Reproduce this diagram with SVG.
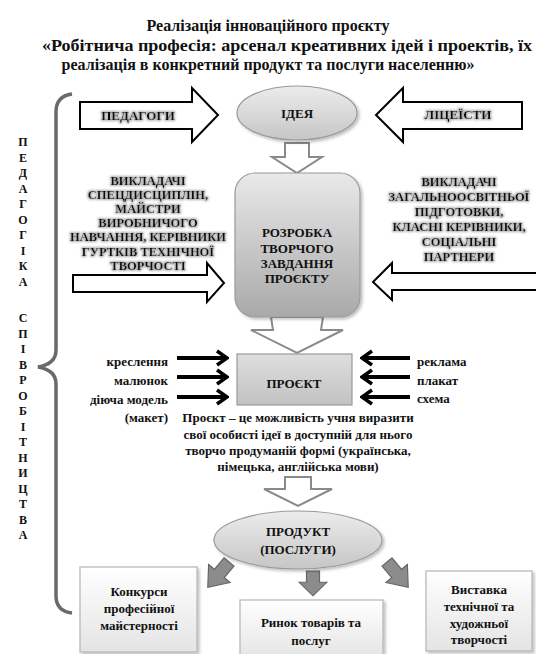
<svg xmlns="http://www.w3.org/2000/svg" width="536" height="654" viewBox="0 0 536 654">
<style>
text{font-family:"Liberation Serif","DejaVu Serif","Times New Roman",serif;font-weight:bold;fill:#111}
.t{font-size:16px}
.s{font-size:13px;text-anchor:middle}
.l{font-size:12.5px;text-anchor:middle}
.v{font-size:12px;text-anchor:middle}
.e{font-size:13px;text-anchor:end}
.st{font-size:13px;text-anchor:start}
.big{fill:#fff;stroke:#000;stroke-width:2}
.hol{fill:#fff;stroke:#8a8a8a;stroke-width:2;stroke-linejoin:miter}
.blk{stroke:#000;stroke-width:4;fill:none}
.gra{fill:#8c8c8c;stroke:#666;stroke-width:1.2}
.box{fill:url(#gBox);stroke:#b5b5b5;stroke-width:1.2}
</style>
<defs>
<linearGradient id="gIdea" x1="0" y1="0" x2="0" y2="1"><stop offset="0" stop-color="#ececec"/><stop offset="1" stop-color="#c6c6c6"/></linearGradient>
<linearGradient id="gRR" x1="0" y1="0" x2="0" y2="1"><stop offset="0" stop-color="#e9e9e9"/><stop offset="1" stop-color="#a9a9a9"/></linearGradient>
<linearGradient id="gProj" x1="0" y1="0" x2="0" y2="1"><stop offset="0" stop-color="#dedede"/><stop offset="1" stop-color="#c2c2c2"/></linearGradient>
<linearGradient id="gBox" x1="0" y1="0" x2="0" y2="1"><stop offset="0" stop-color="#ffffff"/><stop offset="1" stop-color="#e4e4e4"/></linearGradient>
<filter id="glow" x="-10%" y="-30%" width="120%" height="160%">
<feMorphology in="SourceAlpha" operator="dilate" radius="0.8" result="d"/>
<feGaussianBlur in="d" stdDeviation="1.2" result="b"/>
<feFlood flood-color="#aaaaaa"/>
<feComposite in2="b" operator="in" result="sh"/>
<feMerge><feMergeNode in="sh"/><feMergeNode in="SourceGraphic"/></feMerge>
</filter>
<filter id="shadow" x="-10%" y="-10%" width="125%" height="125%">
<feGaussianBlur in="SourceAlpha" stdDeviation="1.5"/>
<feOffset dx="1.5" dy="1.5" result="o"/>
<feFlood flood-color="#000" flood-opacity="0.25"/>
<feComposite in2="o" operator="in" result="s"/>
<feMerge><feMergeNode in="s"/><feMergeNode in="SourceGraphic"/></feMerge>
</filter>
<marker id="mk" viewBox="0 0 14 18" refX="12" refY="9" markerWidth="14" markerHeight="18" markerUnits="userSpaceOnUse" orient="auto">
<path d="M2,2 L12,9 L2,16" fill="none" stroke="#000" stroke-width="3.5"/>
</marker>
<path id="garr" d="M-6.5,0 L6.5,0 L6.5,15 L14,15 L0,33 L-14,15 L-6.5,15 Z"/>
</defs>

<g id="title">
<text class="t" x="268" y="31" text-anchor="middle">Реалізація інноваційного  проєкту</text>
<text class="t" x="42" y="51" textLength="490" lengthAdjust="spacingAndGlyphs">«Робітнича професія: арсенал креативних ідей і проектів, їх</text>
<text class="t" x="268" y="70" text-anchor="middle">реалізація в конкретний  продукт та послуги населенню»</text>
</g>

<g id="brace">
<path d="M72,94 Q56,96 56,112 L56,350 Q56,364 38,367 Q56,370 56,384 L56,596 Q56,611 72,613" fill="none" stroke="#6a6a6a" stroke-width="3.5"/>
</g>

<g id="side-pedagogika">
<text class="v" x="23" y="146">П</text>
<text class="v" x="23" y="161.5">Е</text>
<text class="v" x="23" y="177">Д</text>
<text class="v" x="23" y="192.5">А</text>
<text class="v" x="23" y="208">Г</text>
<text class="v" x="23" y="223.5">О</text>
<text class="v" x="23" y="239">Г</text>
<text class="v" x="23" y="254.5">І</text>
<text class="v" x="23" y="270">К</text>
<text class="v" x="23" y="285.5">А</text>
</g>
<g id="side-spivrobitnytstva">
<text class="v" x="23" y="322">С</text>
<text class="v" x="23" y="337.5">П</text>
<text class="v" x="23" y="353">І</text>
<text class="v" x="23" y="368.5">В</text>
<text class="v" x="23" y="384">Р</text>
<text class="v" x="23" y="399.5">О</text>
<text class="v" x="23" y="415">Б</text>
<text class="v" x="23" y="430.5">І</text>
<text class="v" x="23" y="446">Т</text>
<text class="v" x="23" y="461.5">Н</text>
<text class="v" x="23" y="477">И</text>
<text class="v" x="23" y="492.5">Ц</text>
<text class="v" x="23" y="508">Т</text>
<text class="v" x="23" y="523.5">В</text>
<text class="v" x="23" y="539">А</text>
</g>

<g id="connectors">
<polygon class="hol" points="285,143 309,143 309,157 322,157 297,173 272,157 285,157"/>
<polygon class="hol" points="271,317 323,317 321,330 343,330 297,353 251,330 273,330"/>
<polygon class="hol" points="285,477 311,477 311,489 332,489 298,506 264,489 285,489"/>
<line class="blk" x1="177" y1="358" x2="227" y2="358" marker-end="url(#mk)"/>
<line class="blk" x1="177" y1="377" x2="227" y2="377" marker-end="url(#mk)"/>
<line class="blk" x1="177" y1="397" x2="227" y2="397" marker-end="url(#mk)"/>
<line class="blk" x1="410" y1="358" x2="362" y2="358" marker-end="url(#mk)"/>
<line class="blk" x1="410" y1="377" x2="362" y2="377" marker-end="url(#mk)"/>
<line class="blk" x1="410" y1="397" x2="362" y2="397" marker-end="url(#mk)"/>
<use href="#garr" class="gra" transform="translate(229,562) rotate(40)"/>
<use href="#garr" class="gra" transform="translate(313,571) scale(1,0.75)"/>
<use href="#garr" class="gra" transform="translate(387,562) rotate(-40)"/>
</g>

<g id="pedagogy">
<polygon class="big" points="80,102 192,102 192,88 218,115 192,142 192,129 80,129"/>
<text class="s" x="138" y="120" filter="url(#glow)">ПЕДАГОГИ</text>
</g>

<g id="lyceists">
<polygon class="big" points="522,102 403,102 403,88 376,115 403,142 403,129 522,129"/>
<text class="s" x="458" y="119" filter="url(#glow)">ЛІЦЕЇСТИ</text>
</g>

<g id="idea">
<ellipse cx="297" cy="113" rx="60" ry="27" fill="url(#gIdea)" stroke="#9a9a9a" stroke-width="1.2" filter="url(#shadow)"/>
<text class="s" x="297" y="118">ІДЕЯ</text>
</g>

<g id="teachers-special">
<g filter="url(#glow)">
<text class="l" x="148" y="184.5">ВИКЛАДАЧІ</text>
<text class="l" x="148" y="198.7">СПЕЦДИСЦИПЛІН,</text>
<text class="l" x="148" y="212.9">МАЙСТРИ</text>
<text class="l" x="148" y="227.1">ВИРОБНИЧОГО</text>
<text class="l" x="148" y="241.3">НАВЧАННЯ, КЕРІВНИКИ</text>
<text class="l" x="148" y="255.5">ГУРТКІВ ТЕХНІЧНОЇ</text>
<text class="l" x="148" y="269.5">ТВОРЧОСТІ</text>
</g>
<polygon class="big" points="73,275 207,275 207,263 224,283 207,302 207,292 73,292"/>
</g>

<g id="teachers-general">
<g filter="url(#glow)">
<text class="l" x="459" y="185.5">ВИКЛАДАЧІ</text>
<text class="l" x="459" y="200.5">ЗАГАЛЬНООСВІТНЬОЇ</text>
<text class="l" x="459" y="215.5">ПІДГОТОВКИ,</text>
<text class="l" x="459" y="230.5">КЛАСНІ КЕРІВНИКИ,</text>
<text class="l" x="459" y="245.5">СОЦІАЛЬНІ</text>
<text class="l" x="459" y="260.5">ПАРТНЕРИ</text>
</g>
<polygon class="big" points="540,273 392,273 392,263 373,282 392,300 392,290 540,290"/>
</g>

<g id="task">
<rect x="235" y="173" width="125" height="144" rx="20" fill="url(#gRR)" stroke="#9a9a9a" stroke-width="1.2" filter="url(#shadow)"/>
<text class="s" x="297" y="237">РОЗРОБКА</text>
<text class="s" x="297" y="252.5">ТВОРЧОГО</text>
<text class="s" x="297" y="268">ЗАВДАННЯ</text>
<text class="s" x="297" y="283">ПРОЄКТУ</text>
</g>

<g id="project">
<rect x="237" y="354" width="115" height="51" fill="url(#gProj)" stroke="#9a9a9a" stroke-width="1.2"/>
<text class="s" x="294" y="388">ПРОЄКТ</text>
</g>

<g id="project-inputs-left">
<text class="e" x="168" y="366">креслення</text>
<text class="e" x="168" y="385">малюнок</text>
<text class="e" x="168" y="404">діюча модель</text>
<text class="e" x="168" y="422">(макет)</text>
</g>
<g id="project-inputs-right">
<text class="st" x="417" y="366">реклама</text>
<text class="st" x="417" y="385">плакат</text>
<text class="st" x="417" y="403">схема</text>
</g>

<g id="project-description">
<text class="s" x="298" y="422">Проєкт – це можливість учня виразити</text>
<text class="s" x="298" y="439">свої особисті ідеї в доступній для нього</text>
<text class="s" x="298" y="455">творчо продуманій формі (українська,</text>
<text class="s" x="298" y="471">німецька, англійська мови)</text>
</g>

<g id="product">
<ellipse cx="298" cy="540" rx="84" ry="29" fill="url(#gIdea)" stroke="#9a9a9a" stroke-width="1.2" filter="url(#shadow)"/>
<text class="s" x="298" y="536">ПРОДУКТ</text>
<text class="s" x="298" y="554">(ПОСЛУГИ)</text>
</g>

<g id="contests">
<rect class="box" x="80" y="567" width="117" height="85" filter="url(#shadow)"/>
<text class="s" x="139" y="596">Конкурси</text>
<text class="s" x="139" y="613">професійної</text>
<text class="s" x="139" y="630">майстерності</text>
</g>

<g id="market">
<rect class="box" x="240" y="600" width="143" height="60" filter="url(#shadow)"/>
<text class="s" x="311" y="627">Ринок товарів та</text>
<text class="s" x="311" y="645">послуг</text>
</g>

<g id="exhibition">
<rect class="box" x="426" y="571" width="106" height="80" filter="url(#shadow)"/>
<text class="s" x="479" y="594">Виставка</text>
<text class="s" x="479" y="611">технічної та</text>
<text class="s" x="479" y="628">художньої</text>
<text class="s" x="479" y="644">творчості</text>
</g>
</svg>
